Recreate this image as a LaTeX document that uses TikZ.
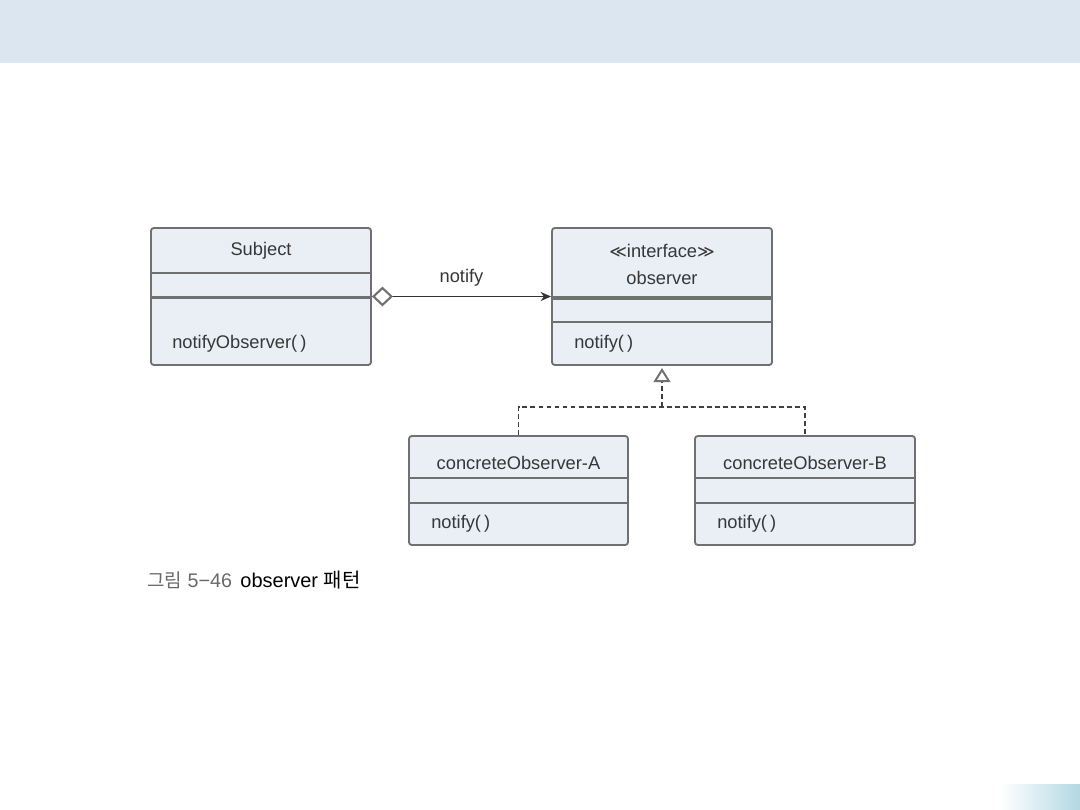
\documentclass[tikz,border=0pt]{standalone}
\usepackage{fontspec}
\setmainfont{Liberation Sans}
\newfontfamily\korfont{Noto Sans CJK KR}
\newfontfamily\symfont{DejaVu Sans}
\usetikzlibrary{arrows.meta}

\definecolor{bandblue}{RGB}{220,230,241}
\definecolor{boxfill}{RGB}{233,239,245}
\definecolor{boxline}{RGB}{112,112,112}
\definecolor{txtgray}{RGB}{55,55,55}
\definecolor{capgray}{RGB}{105,105,105}
\definecolor{cornerblue}{RGB}{178,216,228}

\begin{document}
\begin{tikzpicture}[
	x=0.025cm, y=-0.025cm,
	classbox/.style={
		rectangle,
		rounded corners=2pt,
		draw=boxline,
		fill=boxfill,
		line width=1.3pt,
		inner sep=0pt
	},
	sepline/.style={draw=boxline, line width=1.3pt},
	septhick/.style={draw=boxline, line width=2.5pt},
	title/.style={font=\fontsize{13}{15}\selectfont, text=txtgray, inner sep=0pt},
	member/.style={title, anchor=west},
	aggr/.style={draw=black!80, line width=0.8pt,
		{Diamond[open, length=15pt, width=14pt, line width=1.5pt, color=boxline]}-{Stealth[length=7.5pt, width=6.5pt]}},
	realize/.style={draw=black!75, line width=0.8pt, dash pattern=on 3.5pt off 2.2pt}
]

\useasboundingbox (0,0) rectangle (1080,810);

% Hintergrund
\fill[bandblue] (0,0) rectangle (1080,63);
\shade[left color=white, right color=cornerblue] (1000,784) rectangle (1080,810);

% Subject
\node[classbox, minimum width=220*0.025cm, minimum height=137*0.025cm] (subj) at (261,296.5) {};
\draw[sepline] (subj.west |- 0,273) -- (subj.east |- 0,273);
\draw[septhick] (subj.west |- 0,297.5) -- (subj.east |- 0,297.5);
\node[title] (subjname) at (261,251) {Subject};
\node[member] (subjop) at (172,344) {notifyObserver(\,)};

% observer (interface)
\node[classbox, minimum width=220*0.025cm, minimum height=137*0.025cm] (obs) at (662,296.5) {};
\draw[septhick] (obs.west |- 0,298) -- (obs.east |- 0,298);
\draw[sepline] (obs.west |- 0,322) -- (obs.east |- 0,322);
\node[title] (obsstereo) at (662,251) {{\symfont\fontsize{12}{14}\selectfont ≪}interface{\symfont\fontsize{12}{14}\selectfont ≫}};
\node[title] (obsname) at (662,278) {observer};
\node[member] (obsop) at (574,344) {notify(\,)};

% concreteObserver-A
\node[classbox, minimum width=219*0.025cm, minimum height=109*0.025cm] (conA) at (518.5,490.5) {};
\draw[sepline] (conA.west |- 0,478) -- (conA.east |- 0,478);
\draw[sepline] (conA.west |- 0,503) -- (conA.east |- 0,503);
\node[title] (conAname) at (518.5,463) {concreteObserver-A};
\node[member] (conAop) at (431,524) {notify(\,)};

% concreteObserver-B
\node[classbox, minimum width=220*0.025cm, minimum height=109*0.025cm] (conB) at (805,490.5) {};
\draw[sepline] (conB.west |- 0,478) -- (conB.east |- 0,478);
\draw[sepline] (conB.west |- 0,503) -- (conB.east |- 0,503);
\node[title] (conBname) at (805,463) {concreteObserver-B};
\node[member] (conBop) at (717,524) {notify(\,)};

% Beziehungen
\draw[aggr] (subj.east) -- node[title, above=7pt] (notifylbl) {notify} (obs.west);
\coordinate (fork) at (obs.south |- 0,407);
\draw[realize] (conA.north) |- (fork) -| (conB.north);
\draw[realize, -{Triangle[open, length=10pt, width=12pt, line width=1.4pt, color=boxline]}] (fork) -- ([yshift=-1.5pt]obs.south);

% Bildunterschrift
\node[anchor=west, inner sep=0pt] (caption) at (147,580)
	{{\color{capgray}{\korfont\fontsize{13.5}{16}\selectfont 그림}\fontsize{14}{16}\selectfont\ 5−46}\hspace{6pt}{\fontsize{14.2}{17}\selectfont observer {\korfont 패턴}}};

\end{tikzpicture}
\end{document}
